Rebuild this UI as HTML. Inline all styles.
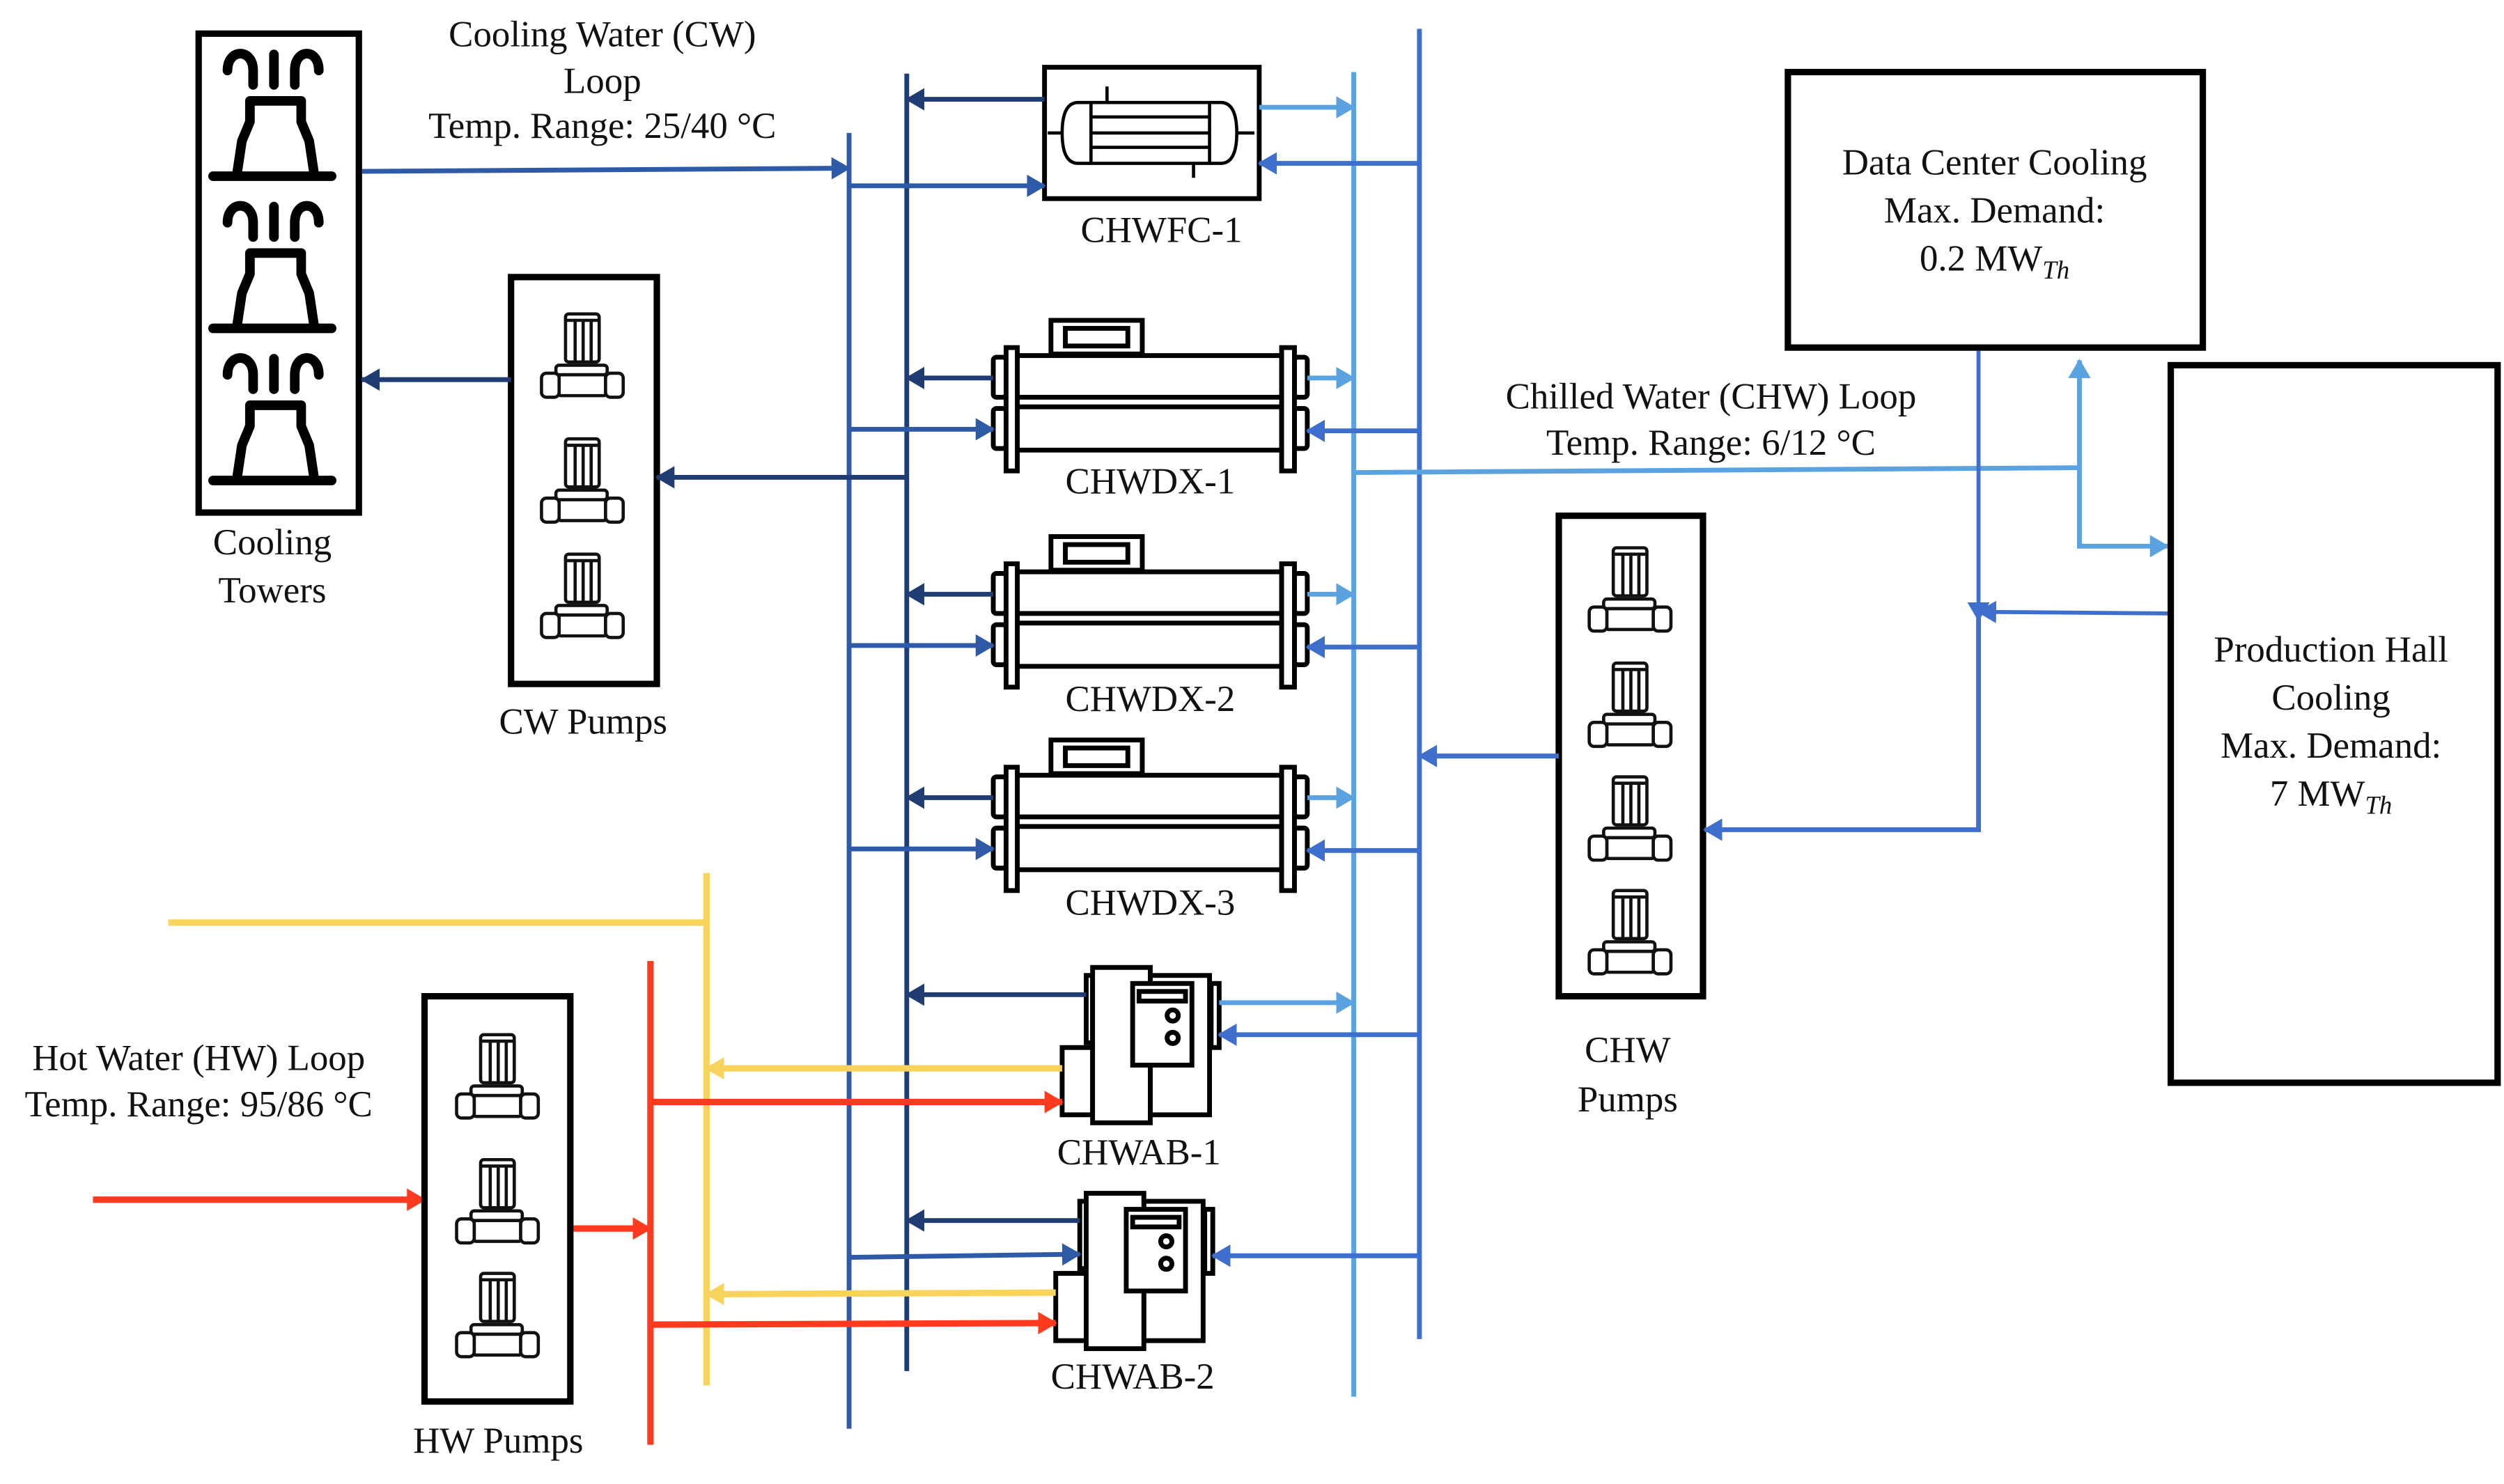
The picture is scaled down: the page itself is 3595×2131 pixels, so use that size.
<!DOCTYPE html>
<html><head><meta charset="utf-8"><style>
html,body{margin:0;padding:0;background:#fff}
svg{display:block}
text{font-family:"Liberation Serif","DejaVu Serif",serif;font-size:23px;fill:#111}
</style></head><body>
<svg width="3595" height="2131" viewBox="0 0 1563 926.5" xmlns="http://www.w3.org/2000/svg" font-family="Liberation Serif, DejaVu Serif, serif">
<defs>
<marker id="aN" markerUnits="userSpaceOnUse" markerWidth="12" markerHeight="14" refX="11" refY="7" orient="auto"><path d="M0,0 L12,7 L0,14 Z" fill="#1f3d73"/></marker>
<marker id="aM" markerUnits="userSpaceOnUse" markerWidth="12" markerHeight="14" refX="11" refY="7" orient="auto"><path d="M0,0 L12,7 L0,14 Z" fill="#2e5aa8"/></marker>
<marker id="aL" markerUnits="userSpaceOnUse" markerWidth="12" markerHeight="14" refX="11" refY="7" orient="auto"><path d="M0,0 L12,7 L0,14 Z" fill="#5ba3e0"/></marker>
<marker id="aB" markerUnits="userSpaceOnUse" markerWidth="12" markerHeight="14" refX="11" refY="7" orient="auto"><path d="M0,0 L12,7 L0,14 Z" fill="#3f6fcc"/></marker>
<marker id="aY" markerUnits="userSpaceOnUse" markerWidth="12" markerHeight="14" refX="11" refY="7" orient="auto"><path d="M0,0 L12,7 L0,14 Z" fill="#f9d45c"/></marker>
<marker id="aR" markerUnits="userSpaceOnUse" markerWidth="12" markerHeight="14" refX="11" refY="7" orient="auto"><path d="M0,0 L12,7 L0,14 Z" fill="#ff3b1f"/></marker>
<g id="pump" fill="#fff" stroke="#111" stroke-width="2">
<rect x="-11" y="0" width="21" height="30" rx="2"/>
<line x1="-5" y1="4" x2="-5" y2="30"/><line x1="0" y1="4" x2="0" y2="30"/><line x1="5" y1="4" x2="5" y2="30"/>
<line x1="-11" y1="4" x2="10" y2="4"/>
<rect x="-17" y="32" width="32" height="6" rx="2"/>
<rect x="-15" y="38" width="29" height="13" rx="1"/>
<rect x="-26" y="37" width="11" height="15" rx="3"/>
<rect x="14" y="37" width="11" height="15" rx="3"/>
</g>
<g id="tower" fill="none" stroke="#000" stroke-linecap="round" stroke-width="6">
<line x1="133" y1="0" x2="207" y2="0"/>
<path d="M148,-2 L151,-22 L156,-34 L156,-47 L188,-47 L188,-34 L193,-22 L196,-2" stroke-linejoin="round"/>
<path d="M142,-66 C142,-80 158,-80 158,-66 L158,-57"/>
<line x1="171" y1="-76" x2="171" y2="-57"/>
<path d="M199,-66 C199,-80 184,-80 184,-66 L184,-57"/>
</g>
<g id="dx" fill="#fff" stroke="#000" stroke-width="3">
<rect x="656" y="200" width="57" height="21"/>
<rect x="665" y="205" width="39" height="11"/>
<rect x="635" y="222" width="165" height="26"/>
<rect x="635" y="254" width="165" height="27"/>
<rect x="620" y="223" width="8" height="25" rx="2"/>
<rect x="620" y="255" width="8" height="25" rx="2"/>
<rect x="808" y="223" width="8" height="25" rx="2"/>
<rect x="808" y="255" width="8" height="25" rx="2"/>
<rect x="628" y="217" width="7" height="77"/>
<rect x="800" y="217" width="8" height="77"/>
</g>
<g id="ab" fill="#fff" stroke="#000" stroke-width="3">
<rect x="55" y="5" width="37" height="87"/>
<rect x="15" y="5" width="4" height="42"/>
<rect x="93" y="10" width="5" height="40"/>
<rect x="0" y="50" width="19" height="42"/>
<rect x="19" y="0" width="36" height="97"/>
<rect x="44" y="10" width="37" height="51"/>
<rect x="48" y="15" width="29" height="6"/>
<circle cx="69" cy="30" r="3.5"/><circle cx="69" cy="44" r="3.5"/>
</g>
</defs>

<rect x="124" y="21" width="100" height="299" fill="none" stroke="#000" stroke-width="4"/>
<use href="#tower" transform="translate(0,110)"/>
<use href="#tower" transform="translate(0,205)"/>
<use href="#tower" transform="translate(0,300)"/>
<text x="170" y="346" text-anchor="middle">Cooling</text>
<text x="170" y="376" text-anchor="middle">Towers</text>

<text x="376" y="29" text-anchor="middle">Cooling Water (CW)</text>
<text x="376" y="58" text-anchor="middle">Loop</text>
<text x="376" y="86" text-anchor="middle">Temp. Range: 25/40 °C</text>

<rect x="319" y="173" width="91" height="254" fill="none" stroke="#000" stroke-width="4"/>
<use href="#pump" transform="translate(364,196)"/>
<use href="#pump" transform="translate(364,274)"/>
<use href="#pump" transform="translate(364,346)"/>
<text x="364" y="458" text-anchor="middle">CW Pumps</text>

<line x1="530" y1="83" x2="530" y2="892" stroke="#2e5aa8" stroke-width="3"/>
<line x1="566" y1="46" x2="566" y2="856" stroke="#1f3d73" stroke-width="3"/>
<line x1="845" y1="45" x2="845" y2="872" stroke="#5ba3e0" stroke-width="3"/>
<line x1="886" y1="18" x2="886" y2="836" stroke="#3f6fcc" stroke-width="3"/>

<line x1="226" y1="107" x2="530" y2="105" stroke="#2e5aa8" stroke-width="3" marker-end="url(#aM)"/>
<line x1="319" y1="237" x2="226" y2="237" stroke="#1f3d73" stroke-width="3" marker-end="url(#aN)"/>
<line x1="566" y1="298" x2="410" y2="298" stroke="#1f3d73" stroke-width="3" marker-end="url(#aN)"/>

<rect x="652" y="42" width="134" height="82" fill="#fff" stroke="#000" stroke-width="3"/>
<g fill="none" stroke="#000" stroke-width="2">
<path d="M673,64 L762,64 Q772,64 772,83 Q772,102 762,102 L673,102 Q663,102 663,83 Q663,64 673,64 Z"/>
<line x1="681" y1="64" x2="681" y2="102"/><line x1="755" y1="64" x2="755" y2="102"/>
<line x1="681" y1="73" x2="755" y2="73"/><line x1="681" y1="83" x2="755" y2="83"/><line x1="681" y1="92" x2="755" y2="92"/>
<line x1="654" y1="83" x2="663" y2="83"/><line x1="772" y1="83" x2="783" y2="83"/>
<line x1="691" y1="54" x2="691" y2="64"/><line x1="745" y1="102" x2="745" y2="111"/>
</g>
<text x="725" y="151" text-anchor="middle">CHWFC-1</text>
<line x1="652" y1="62" x2="566" y2="62" stroke="#1f3d73" stroke-width="3" marker-end="url(#aN)"/>
<line x1="530" y1="116" x2="652" y2="116" stroke="#2e5aa8" stroke-width="3" marker-end="url(#aM)"/>
<line x1="786" y1="67" x2="845" y2="67" stroke="#5ba3e0" stroke-width="3" marker-end="url(#aL)"/>
<line x1="886" y1="102" x2="786" y2="102" stroke="#3f6fcc" stroke-width="3" marker-end="url(#aB)"/>

<g>
<use href="#dx"/>
<text x="718" y="308" text-anchor="middle">CHWDX-1</text>
<line x1="620" y1="236" x2="566" y2="236" stroke="#1f3d73" stroke-width="3" marker-end="url(#aN)"/>
<line x1="530" y1="268" x2="620" y2="268" stroke="#2e5aa8" stroke-width="3" marker-end="url(#aM)"/>
<line x1="816" y1="236" x2="845" y2="236" stroke="#5ba3e0" stroke-width="3" marker-end="url(#aL)"/>
<line x1="886" y1="269" x2="816" y2="269" stroke="#3f6fcc" stroke-width="3" marker-end="url(#aB)"/>
</g>
<g transform="translate(0,135)">
<use href="#dx"/>
<text x="718" y="309" text-anchor="middle">CHWDX-2</text>
<line x1="620" y1="236" x2="566" y2="236" stroke="#1f3d73" stroke-width="3" marker-end="url(#aN)"/>
<line x1="530" y1="268" x2="620" y2="268" stroke="#2e5aa8" stroke-width="3" marker-end="url(#aM)"/>
<line x1="816" y1="236" x2="845" y2="236" stroke="#5ba3e0" stroke-width="3" marker-end="url(#aL)"/>
<line x1="886" y1="269" x2="816" y2="269" stroke="#3f6fcc" stroke-width="3" marker-end="url(#aB)"/>
</g>
<g transform="translate(0,262)">
<use href="#dx"/>
<text x="718" y="309" text-anchor="middle">CHWDX-3</text>
<line x1="620" y1="236" x2="566" y2="236" stroke="#1f3d73" stroke-width="3" marker-end="url(#aN)"/>
<line x1="530" y1="268" x2="620" y2="268" stroke="#2e5aa8" stroke-width="3" marker-end="url(#aM)"/>
<line x1="816" y1="236" x2="845" y2="236" stroke="#5ba3e0" stroke-width="3" marker-end="url(#aL)"/>
<line x1="886" y1="269" x2="816" y2="269" stroke="#3f6fcc" stroke-width="3" marker-end="url(#aB)"/>
</g>

<line x1="441" y1="545" x2="441" y2="865" stroke="#f9d45c" stroke-width="4"/>
<line x1="105" y1="576" x2="441" y2="576" stroke="#f9d45c" stroke-width="4"/>
<line x1="406" y1="600" x2="406" y2="902" stroke="#ff3b1f" stroke-width="4"/>
<line x1="58" y1="749" x2="265" y2="749" stroke="#ff3b1f" stroke-width="4" marker-end="url(#aR)"/>
<line x1="358" y1="767" x2="406" y2="767" stroke="#ff3b1f" stroke-width="4" marker-end="url(#aR)"/>

<rect x="265" y="622" width="91" height="253" fill="none" stroke="#000" stroke-width="4"/>
<use href="#pump" transform="translate(311,646)"/>
<use href="#pump" transform="translate(311,724)"/>
<use href="#pump" transform="translate(311,795)"/>
<text x="311" y="907" text-anchor="middle">HW Pumps</text>
<text x="124" y="668" text-anchor="middle">Hot Water (HW) Loop</text>
<text x="124" y="697" text-anchor="middle">Temp. Range: 95/86 °C</text>

<use href="#ab" transform="translate(663,604)"/>
<text x="711" y="727" text-anchor="middle">CHWAB-1</text>
<line x1="678" y1="621" x2="566" y2="621" stroke="#1f3d73" stroke-width="3" marker-end="url(#aN)"/>
<line x1="761" y1="626" x2="845" y2="626" stroke="#5ba3e0" stroke-width="3" marker-end="url(#aL)"/>
<line x1="886" y1="646" x2="761" y2="646" stroke="#3f6fcc" stroke-width="3" marker-end="url(#aB)"/>
<line x1="663" y1="667" x2="441" y2="667" stroke="#f9d45c" stroke-width="4" marker-end="url(#aY)"/>
<line x1="406" y1="688" x2="663" y2="688" stroke="#ff3b1f" stroke-width="4" marker-end="url(#aR)"/>

<use href="#ab" transform="translate(659,745)"/>
<text x="707" y="867" text-anchor="middle">CHWAB-2</text>
<line x1="674" y1="762" x2="566" y2="762" stroke="#1f3d73" stroke-width="3" marker-end="url(#aN)"/>
<line x1="530" y1="785" x2="674" y2="783" stroke="#2e5aa8" stroke-width="3" marker-end="url(#aM)"/>
<line x1="886" y1="784" x2="757" y2="784" stroke="#3f6fcc" stroke-width="3" marker-end="url(#aB)"/>
<line x1="659" y1="807" x2="441" y2="808" stroke="#f9d45c" stroke-width="4" marker-end="url(#aY)"/>
<line x1="406" y1="827" x2="659" y2="826" stroke="#ff3b1f" stroke-width="4" marker-end="url(#aR)"/>

<rect x="973" y="322" width="90" height="300" fill="none" stroke="#000" stroke-width="4"/>
<use href="#pump" transform="translate(1018,342)"/>
<use href="#pump" transform="translate(1018,414)"/>
<use href="#pump" transform="translate(1018,485)"/>
<use href="#pump" transform="translate(1018,556)"/>
<text x="1016" y="663" text-anchor="middle">CHW</text>
<text x="1016" y="694" text-anchor="middle">Pumps</text>
<line x1="973" y1="472" x2="886" y2="472" stroke="#3f6fcc" stroke-width="3" marker-end="url(#aB)"/>

<polyline points="845,295 1298,292 1298,225" fill="none" stroke="#5ba3e0" stroke-width="3" marker-end="url(#aL)"/>
<polyline points="1298,292 1298,341 1353,341" fill="none" stroke="#5ba3e0" stroke-width="3" marker-end="url(#aL)"/>
<text x="1068" y="255" text-anchor="middle">Chilled Water (CHW) Loop</text>
<text x="1068" y="284" text-anchor="middle">Temp. Range: 6/12 °C</text>

<line x1="1235" y1="219" x2="1235" y2="387" stroke="#3f6fcc" stroke-width="2.5" marker-end="url(#aB)"/>
<line x1="1354" y1="383" x2="1235" y2="382" stroke="#3f6fcc" stroke-width="2.5" marker-end="url(#aB)"/>
<polyline points="1235,380 1235,518 1064,518" fill="none" stroke="#3f6fcc" stroke-width="3" marker-end="url(#aB)"/>

<rect x="1116" y="45" width="259" height="172" fill="#fff" stroke="#000" stroke-width="4"/>
<text x="1245" y="109" text-anchor="middle">Data Center Cooling</text>
<text x="1245" y="139" text-anchor="middle">Max. Demand:</text>
<text x="1245" y="169" text-anchor="middle">0.2 MW<tspan font-style="italic" font-size="16" dy="5">Th</tspan></text>

<rect x="1355" y="228" width="204" height="448" fill="#fff" stroke="#000" stroke-width="4"/>
<text x="1455" y="413" text-anchor="middle">Production Hall</text>
<text x="1455" y="443" text-anchor="middle">Cooling</text>
<text x="1455" y="473" text-anchor="middle">Max. Demand:</text>
<text x="1455" y="503" text-anchor="middle">7 MW<tspan font-style="italic" font-size="16" dy="5">Th</tspan></text>
</svg>
</body></html>
